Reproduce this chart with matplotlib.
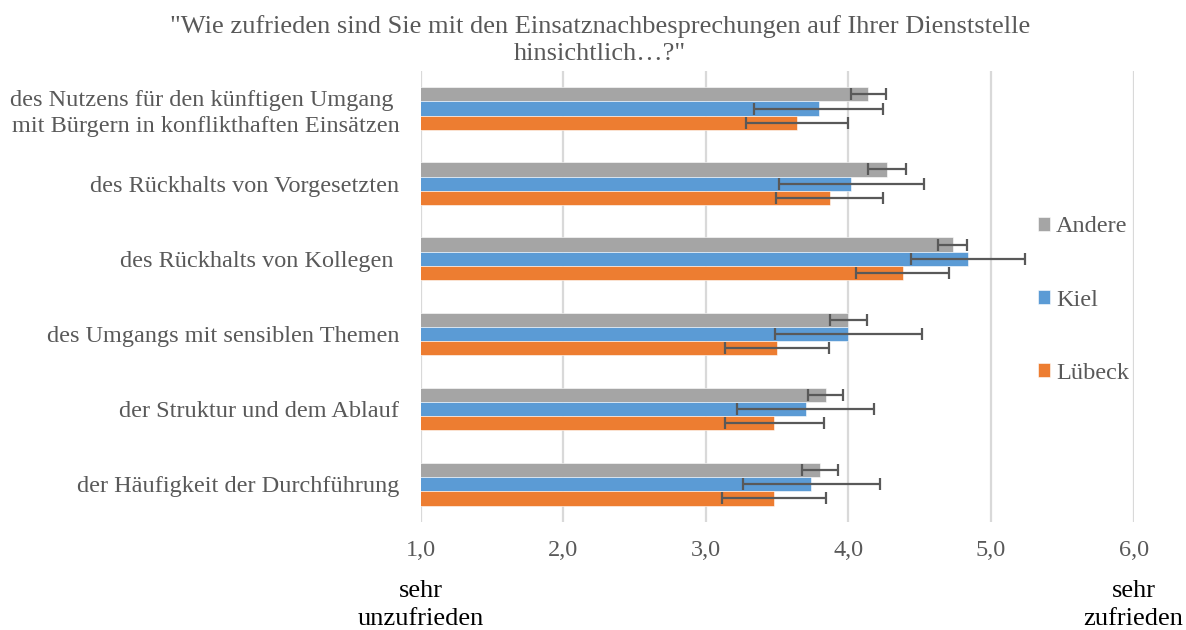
import matplotlib.pyplot as plt
import matplotlib.transforms as mtransforms
import numpy as np

plt.rcParams['font.family'] = ['Liberation Serif', 'DejaVu Serif']

categories = ["des Nutzens für den künftigen Umgang \nmit Bürgern in konflikthaften Einsätzen",
              "des Rückhalts von Vorgesetzten",
              "des Rückhalts von Kollegen ",
              "des Umgangs mit sensiblen Themen",
              "der Struktur und dem Ablauf",
              "der Häufigkeit der Durchführung"]
andere = [4.14, 4.27, 4.73, 4.00, 3.84, 3.80]
andere_err = [0.12, 0.135, 0.105, 0.13, 0.125, 0.125]
kiel = [3.79, 4.02, 4.84, 4.00, 3.70, 3.74]
kiel_err = [0.45, 0.51, 0.40, 0.515, 0.48, 0.48]
luebeck = [3.64, 3.87, 4.38, 3.50, 3.48, 3.48]
luebeck_err = [0.36, 0.375, 0.325, 0.365, 0.345, 0.365]
xticks = [1, 2, 3, 4, 5, 6]
xtick_labels = ["1,0", "2,0", "3,0", "4,0", "5,0", "6,0"]

text_col = '#595959'
fs = 17.5
fig = plt.figure(figsize=(11.86, 6.3), dpi=100)
ax = fig.add_axes([0.3548, 0.1719, 0.601, 0.7154])

y = np.arange(len(categories))[::-1]
h = 0.19
series = [(andere, andere_err, '#A5A5A5', 'Andere', h),
          (kiel, kiel_err, '#5B9BD5', 'Kiel', 0),
          (luebeck, luebeck_err, '#ED7D31', 'Lübeck', -h)]
for vals, errs, col, name, off in series:
    ax.barh(y + off, vals, height=h, color=col, label=name,
            edgecolor='white', linewidth=0.4, zorder=2)
    ax.errorbar(vals, y + off, xerr=errs, fmt='none', ecolor='#595959',
                elinewidth=1.6, capsize=4, capthick=1.6, zorder=3)

ax.set_xlim(1, 6)
ax.set_ylim(-0.5, 5.5)
ax.set_xticks(xticks)
ax.set_xticklabels(xtick_labels, fontsize=fs, color=text_col)
ax.set_yticks(y)
ax.set_yticklabels(categories, fontsize=fs, color=text_col, linespacing=1.3)
ax.tick_params(axis='both', length=0)
ax.tick_params(axis='y', pad=15.5)
ax.tick_params(axis='x', pad=13)
ax.grid(axis='x', color='#D9D9D9', linewidth=1.6, zorder=0)
ax.set_axisbelow(True)
for s in ax.spines.values():
    s.set_visible(False)

trans = mtransforms.blended_transform_factory(ax.transData, fig.transFigure)
ax.text(1, 1 - 605 / 630, "sehr\nunzufrieden", transform=trans, ha='center',
        va='center', fontsize=19, color='black', linespacing=1.4)
ax.text(6, 1 - 605 / 630, "sehr\nzufrieden", transform=trans, ha='center',
        va='center', fontsize=19, color='black', linespacing=1.4)

fig.text(600 / 1186, 1 - 40 / 630,
         '"Wie zufrieden sind Sie mit den Einsatznachbesprechungen auf Ihrer Dienststelle\nhinsichtlich…?"',
         ha='center', va='center', fontsize=19, color=text_col, linespacing=1.3)

leg = fig.legend(loc='center left', bbox_to_anchor=(1038 / 1186, 1 - 300 / 630),
                 frameon=False, fontsize=fs, labelcolor=text_col, borderpad=0,
                 borderaxespad=0, handlelength=0.5, handleheight=0.5,
                 handletextpad=0.25, labelspacing=2.15)

fig.savefig('out.png', dpi=100)
